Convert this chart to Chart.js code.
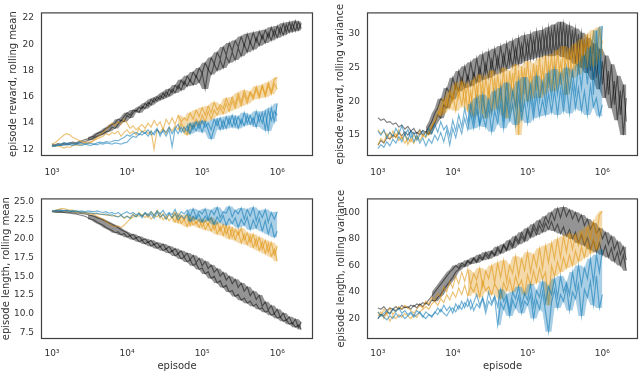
<!DOCTYPE html>
<html>
<head>
<meta charset="utf-8">
<script src="https://cdn.jsdelivr.net/npm/chart.js@4/dist/chart.umd.min.js"></script>
<style>
  html, body { margin: 0; padding: 0; background: #fff; }
  #wrap { position: relative; width: 640px; height: 372px; overflow: hidden; }
  canvas { position: absolute; }
</style>
</head>
<body>
<div id="wrap">
  <canvas id="rewMean" width="320" height="186" style="left:0;top:0"></canvas>
  <canvas id="rewVar" width="320" height="186" style="left:320px;top:0"></canvas>
  <canvas id="lenMean" width="320" height="186" style="left:0;top:186px"></canvas>
  <canvas id="lenVar" width="320" height="186" style="left:320px;top:186px"></canvas>
</div>
<script>
// episode counts (log spaced, 0.04 decades apart)
const episodes = [
  1000, 1096, 1202, 1318, 1445, 1585, 1738, 1905, 2089, 2291,
  2512, 2754, 3020, 3311, 3631, 3981, 4365, 4786, 5248, 5754,
  6310, 6918, 7586, 8318, 9120, 10000, 10965, 12023, 13183, 14454,
  15849, 17378, 19055, 20893, 22909, 25119, 27542, 30200, 33113, 36308,
  39811, 43652, 47863, 52481, 57544, 63096, 69183, 75858, 83176, 91201,
  100000, 109648, 120226, 131826, 144544, 158489, 173780, 190546, 208930, 229087,
  251189, 275423, 301995, 331131, 363078, 398107, 436516, 478630, 524807, 575440,
  630957, 691831, 758578, 831764, 912011, 1000000, 1096478, 1202264, 1318257, 1445440,
  1584893, 1737801, 1905461, 2089296
];

const xTicks = [1e3, 1e4, 1e5, 1e6];
const xTickLabels = ['10\u00B3', '10\u2074', '10\u2075', '10\u2076'];

// ---- episode reward, rolling mean ----
const rewMeanTicks = [12, 14, 16, 18, 20, 22];
const rewMeanBlackA = [
  12.3, 12.25, 12.35, 12.3, 12.4, 12.35, 12.4, 12.45, 12.4, 12.5,
  12.55, 12.6, 12.7, 12.75, 12.9, 13.0, 13.1, 13.2, 13.35, 13.4,
  13.7, 13.6, 13.9, 14.2, 14.1, 14.6, 14.4, 14.8, 15.0, 14.8,
  15.3, 15.1, 15.6, 15.4, 15.9, 15.7, 16.1, 15.9, 16.4, 16.1,
  16.6, 16.3, 16.9, 16.5, 17.2, 16.8, 17.3, 16.9, 17.6, 17.1,
  17.8, 16.6, 18.1, 17.7, 18.5, 18.0, 18.8, 18.2, 19.1, 18.6,
  19.4, 18.8, 19.7, 19.1, 20.0, 19.4, 20.2, 19.6, 20.5, 19.9,
  20.7, 20.1, 20.9, 20.3, 21.1, 20.5, 21.3, 20.7, 21.5, 20.9,
  21.6, 21.0, 21.7, 21.2
];
const rewMeanBlackB = [
  12.4, 12.35, 12.45, 12.4, 12.5, 12.45, 12.5, 12.55, 12.5, 12.6,
  12.65, 12.75, 12.8, 12.95, 13.0, 13.2, 13.3, 13.4, 13.6, 13.7,
  13.9, 14.0, 14.3, 14.2, 14.5, 14.8, 14.6, 15.0, 14.9, 15.2,
  15.1, 15.5, 15.3, 15.8, 15.6, 16.0, 15.8, 16.3, 16.0, 16.6,
  16.3, 16.9, 16.6, 17.3, 16.9, 17.6, 17.2, 17.9, 17.5, 18.2,
  17.8, 18.6, 18.1, 19.0, 18.5, 19.4, 18.9, 19.8, 19.2, 20.1,
  19.5, 20.3, 19.8, 20.6, 19.9, 20.8, 20.1, 20.9, 20.2, 21.0,
  20.4, 21.1, 20.5, 21.3, 20.6, 21.4, 20.8, 21.6, 20.9, 21.7,
  21.0, 21.8, 21.1, 21.6
];
const rewMeanOrangeA = [
  12.4, 12.5, 12.7, 12.9, 13.1, 13.2, 13.1, 12.9, 12.8, 12.7,
  12.6, 12.5, 12.6, 12.5, 12.7, 12.9, 13.1, 13.3, 13.5, 13.8,
  14.0, 13.8, 14.1, 13.9, 14.3, 14.0, 13.6, 13.8, 13.5, 13.7,
  13.9, 13.6, 14.0, 13.7, 14.2, 13.8, 14.1, 13.5, 14.3, 13.9,
  14.4, 13.9, 14.6, 14.1, 14.4, 14.2, 14.8, 14.3, 15.0, 14.5,
  15.2, 14.6, 15.3, 14.8, 15.6, 15.0, 15.4, 15.1, 15.9, 15.3,
  16.0, 15.4, 16.3, 15.6, 16.5, 15.8, 16.4, 16.0, 16.8, 16.1,
  16.9, 16.2, 17.1, 16.4, 17.3, 17.5
];
const rewMeanOrangeB = [
  12.2, 12.3, 12.25, 12.2, 12.1, 12.2, 12.15, 12.3, 12.35, 12.3,
  12.4, 12.5, 12.45, 12.6, 12.7, 12.8, 12.9, 13.0, 13.2, 13.1,
  13.3, 13.2, 13.4, 13.0, 13.3, 13.5, 13.2, 13.4, 13.1, 13.6,
  13.3, 13.5, 13.2, 13.4, 12.0, 13.5, 13.3, 13.6, 13.2, 13.7,
  13.4, 13.8, 13.5, 14.0, 13.6, 13.1, 13.9, 13.7, 14.3, 13.9,
  14.6, 14.1, 14.9, 14.3, 15.0, 14.6, 15.2, 14.7, 15.5, 14.9,
  15.7, 15.1, 16.0, 15.3, 16.2, 15.5, 16.3, 15.8, 16.6, 15.9,
  16.8, 16.0, 16.9, 16.2, 17.0, 16.6
];
const rewMeanBlueA = [
  12.3, 12.25, 12.3, 12.35, 12.3, 12.4, 12.35, 12.3, 12.4, 12.35,
  12.3, 12.4, 12.35, 12.3, 12.4, 12.35, 12.45, 12.4, 12.5, 12.45,
  12.4, 12.5, 12.45, 12.4, 12.5, 12.55, 12.8, 13.0, 12.9, 13.2,
  13.1, 13.3, 13.0, 13.4, 13.1, 13.5, 13.2, 13.4, 13.0, 13.5,
  12.2, 13.6, 13.2, 13.7, 13.3, 13.8, 13.2, 13.9, 13.4, 14.0,
  13.3, 14.1, 13.5, 12.8, 13.6, 14.3, 13.5, 14.2, 13.6, 14.4,
  13.7, 14.5, 13.6, 14.3, 13.8, 14.6, 13.9, 14.4, 13.7, 14.7,
  14.0, 14.9, 13.4, 15.2, 14.1, 15.5
];
const rewMeanBlueB = [
  12.2, 12.3, 12.35, 12.4, 12.5, 12.45, 12.5, 12.4, 12.45, 12.5,
  12.45, 12.4, 12.5, 12.45, 12.4, 12.5, 12.55, 12.5, 12.6, 12.55,
  12.6, 12.7, 12.65, 12.8, 12.9, 13.1, 13.0, 13.2, 13.3, 13.1,
  13.4, 13.2, 13.5, 13.1, 13.3, 13.6, 13.0, 13.5, 13.3, 13.7,
  13.2, 13.6, 13.9, 13.3, 13.7, 13.4, 14.0, 13.5, 14.1, 13.6,
  14.2, 13.7, 14.0, 13.5, 14.3, 13.8, 14.4, 13.6, 14.5, 13.9,
  14.6, 13.8, 14.5, 13.9, 14.8, 14.0, 14.6, 13.9, 14.9, 14.1,
  14.8, 13.5, 15.0, 14.2, 14.9, 14.6
];

// ---- episode reward, rolling variance ----
const rewVarTicks = [15, 20, 25, 30];
const rewVarBlackA = [
  17.6, 17.2, 17.4, 16.9, 17.0, 16.6, 16.8, 16.2, 16.5, 15.9,
  16.3, 15.6, 16.0, 15.2, 15.8, 15.0, 15.5, 15.1, 16.0, 16.8,
  18.0, 17.5, 19.5, 19.0, 21.0, 20.3, 22.5, 21.5, 23.5, 22.0,
  23.8, 22.3, 24.2, 22.8, 25.0, 23.2, 25.6, 23.5, 26.2, 24.0,
  26.6, 24.3, 27.0, 24.8, 27.5, 25.2, 28.0, 25.5, 28.5, 26.0,
  29.0, 26.2, 29.4, 26.5, 29.8, 26.8, 30.2, 27.0, 30.6, 27.2,
  31.0, 27.3, 31.5, 27.0, 31.2, 26.8, 30.8, 26.2, 30.2, 25.5,
  29.4, 24.5, 28.6, 23.5, 27.8, 22.5, 26.8, 21.0, 25.5, 19.5,
  23.8, 18.0, 22.5, 17.0
];
const rewVarBlackB = [
  13.5, 14.2, 13.8, 14.6, 14.4, 15.0, 14.7, 15.3, 14.9, 15.5,
  15.0, 15.6, 15.2, 15.4, 15.1, 15.7, 15.4, 16.2, 17.0, 18.2,
  19.0, 20.4, 20.0, 22.0, 21.2, 23.5, 22.0, 24.5, 22.6, 25.2,
  23.0, 25.8, 23.4, 26.4, 23.8, 27.0, 24.2, 27.4, 24.6, 27.8,
  25.0, 28.2, 25.3, 28.6, 25.6, 29.0, 25.8, 29.4, 26.1, 29.8,
  26.3, 30.0, 26.5, 30.4, 26.6, 30.6, 26.8, 31.0, 26.7, 31.4,
  26.9, 31.8, 26.6, 31.3, 26.2, 30.6, 25.6, 30.0, 25.0, 29.2,
  24.2, 28.2, 23.2, 27.2, 21.8, 26.0, 20.5, 24.5, 19.0, 23.0,
  17.2, 21.6, 15.0, 20.5
];
const rewVarOrangeA = [
  15.8, 15.2, 15.6, 14.8, 15.4, 14.6, 15.2, 14.2, 14.8, 13.8,
  14.6, 14.0, 15.0, 14.4, 15.6, 14.8, 15.4, 15.0, 16.2, 17.4,
  18.6, 18.0, 20.2, 19.2, 21.5, 20.0, 22.6, 20.5, 23.0, 19.5,
  22.5, 18.5, 23.2, 19.8, 24.0, 18.2, 23.5, 20.5, 24.6, 19.0,
  24.0, 20.0, 25.0, 17.5, 24.5, 20.8, 25.5, 15.0, 25.2, 21.0,
  26.0, 20.5, 25.6, 21.5, 26.4, 21.0, 26.8, 22.0, 27.0, 21.5,
  27.6, 22.5, 28.2, 21.0, 27.8, 23.5, 28.6, 24.0, 29.2, 25.0,
  30.0, 25.5, 30.6, 26.0, 31.0, 27.0
];
const rewVarOrangeB = [
  13.5, 14.5, 14.0, 15.2, 14.4, 15.6, 14.6, 15.8, 14.4, 15.2,
  13.6, 14.5, 13.8, 14.8, 14.2, 15.0, 14.6, 15.6, 16.4, 17.0,
  17.8, 19.0, 18.4, 20.5, 19.0, 21.2, 18.6, 21.8, 19.4, 22.2,
  18.8, 21.5, 17.8, 22.4, 19.2, 23.0, 17.5, 22.2, 18.6, 23.5,
  19.4, 22.8, 18.0, 23.6, 20.2, 24.2, 19.0, 24.6, 20.5, 25.0,
  20.0, 24.2, 21.0, 25.4, 20.5, 25.0, 21.5, 25.8, 22.0, 26.4,
  22.5, 25.8, 23.2, 27.0, 24.0, 27.6, 24.8, 28.2, 25.5, 28.8,
  26.0, 29.5, 25.2, 28.6, 26.5, 29.0
];
const rewVarBlueA = [
  15.6, 15.0, 15.8, 14.6, 15.4, 14.8, 16.0, 15.2, 16.4, 15.0,
  15.8, 14.6, 15.4, 14.2, 15.0, 15.6, 14.8, 16.0, 15.2, 16.6,
  15.4, 17.0, 15.8, 16.4, 14.8, 17.2, 15.6, 18.0, 16.2, 19.0,
  16.8, 19.6, 17.0, 20.5, 16.4, 21.0, 17.8, 20.2, 18.0, 21.5,
  18.2, 22.0, 17.0, 22.8, 18.5, 21.5, 19.0, 23.0, 18.4, 23.6,
  19.5, 22.5, 18.8, 23.8, 20.0, 22.8, 19.6, 24.2, 20.5, 24.8,
  21.0, 24.0, 20.2, 25.0, 21.5, 24.5, 21.0, 25.5, 22.0, 26.8,
  22.5, 28.0, 21.0, 30.5, 24.0, 31.2
];
const rewVarBlueB = [
  13.0, 13.6, 13.2, 14.0, 13.4, 14.4, 13.8, 14.8, 14.0, 15.2,
  14.2, 15.6, 14.0, 15.0, 13.8, 14.6, 13.4, 14.4, 13.8, 15.0,
  14.2, 15.4, 14.0, 15.8, 13.5, 16.0, 14.6, 16.6, 15.2, 17.5,
  15.8, 18.2, 16.0, 18.8, 16.6, 18.0, 16.2, 19.2, 15.5, 18.6,
  16.8, 19.8, 16.0, 20.4, 17.2, 19.6, 16.5, 20.8, 17.4, 20.0,
  16.8, 20.6, 17.5, 21.0, 17.8, 20.2, 18.0, 21.2, 18.4, 21.6,
  18.0, 21.8, 18.6, 22.2, 18.2, 22.6, 19.0, 22.0, 18.6, 21.5,
  18.0, 22.4, 19.2, 20.5, 17.8, 19.5
];

// ---- episode length, rolling mean ----
const lenMeanTicks = [7.5, 10, 12.5, 15, 17.5, 20, 22.5, 25];
const lenMeanBlackA = [
  23.7, 23.6, 23.65, 23.6, 23.55, 23.6, 23.5, 23.55, 23.45, 23.4,
  23.35, 23.3, 23.2, 23.1, 23.0, 22.8, 22.7, 22.5, 22.3, 22.1,
  21.9, 21.7, 21.5, 21.2, 21.0, 20.8, 20.4, 20.6, 20.1, 20.3,
  19.8, 20.0, 19.5, 19.8, 19.2, 19.5, 18.9, 19.3, 18.6, 19.0,
  18.3, 18.7, 18.0, 18.4, 17.6, 18.1, 17.2, 17.8, 16.8, 17.4,
  16.4, 17.0, 16.0, 16.5, 15.5, 16.0, 15.0, 15.5, 14.5, 15.0,
  14.0, 14.6, 13.5, 14.1, 13.0, 13.6, 12.4, 13.0, 11.9, 12.5,
  11.0, 11.6, 10.5, 11.1, 10.0, 10.6, 9.5, 10.1, 9.1, 9.6,
  8.6, 9.3, 8.2, 8.9
];
const lenMeanBlackB = [
  23.6, 23.55, 23.5, 23.55, 23.5, 23.45, 23.4, 23.35, 23.3, 23.2,
  23.1, 23.0, 22.8, 22.6, 22.5, 22.2, 22.0, 21.8, 21.5, 21.3,
  21.1, 20.8, 20.9, 20.5, 20.7, 20.2, 20.4, 19.9, 20.1, 19.6,
  19.8, 19.3, 19.6, 19.0, 19.3, 18.7, 19.0, 18.4, 18.7, 18.1,
  18.4, 17.7, 18.0, 17.3, 17.6, 16.9, 17.2, 16.4, 16.7, 15.9,
  16.1, 15.3, 15.6, 14.7, 15.0, 14.1, 14.4, 13.5, 13.8, 12.9,
  13.1, 12.3, 12.6, 11.8, 12.1, 11.4, 11.7, 11.0, 11.3, 10.6,
  10.8, 10.2, 10.4, 9.8, 10.0, 9.4, 9.6, 9.0, 9.2, 8.6,
  8.8, 8.2, 8.5, 7.9
];
const lenMeanOrangeA = [
  23.7, 23.8, 23.9, 24.0, 24.0, 23.9, 23.8, 23.8, 23.7, 23.6,
  23.5, 23.5, 23.4, 23.3, 23.2, 23.0, 22.8, 22.6, 22.3, 22.0,
  21.8, 21.6, 21.7, 21.5, 21.8, 22.2, 22.6, 22.9, 23.1, 23.0,
  23.2, 22.8, 23.3, 22.6, 23.1, 22.9, 23.4, 22.5, 23.0, 22.4,
  22.9, 22.2, 23.2, 22.0, 22.6, 21.6, 22.8, 21.8, 22.3, 21.5,
  22.6, 21.2, 22.0, 21.0, 22.2, 20.6, 21.6, 20.4, 21.8, 20.0,
  21.4, 19.8, 21.0, 19.4, 20.6, 19.2, 20.4, 18.8, 20.0, 18.4,
  19.6, 18.0, 19.4, 17.6, 18.6, 17.0
];
const lenMeanOrangeB = [
  23.6, 23.7, 23.8, 23.8, 23.7, 23.7, 23.6, 23.6, 23.5, 23.5,
  23.5, 23.4, 23.4, 23.3, 23.4, 23.3, 23.2, 23.3, 23.1, 23.2,
  23.0, 23.1, 22.9, 23.2, 22.7, 23.0, 22.8, 23.3, 22.9, 23.5,
  23.0, 23.4, 22.8, 23.6, 23.1, 23.8, 22.7, 23.4, 22.6, 23.2,
  22.8, 23.5, 22.2, 23.0, 22.5, 23.2, 21.8, 22.9, 22.0, 22.6,
  21.6, 22.4, 21.8, 22.8, 21.2, 22.2, 21.0, 21.9, 20.6, 21.6,
  20.2, 21.2, 20.5, 21.4, 19.8, 20.8, 19.5, 20.6, 19.0, 20.2,
  18.6, 19.8, 18.2, 19.5, 17.8, 19.0
];
const lenMeanBlueA = [
  23.7, 23.75, 23.8, 23.8, 23.75, 23.8, 23.7, 23.75, 23.7, 23.65,
  23.7, 23.6, 23.7, 23.65, 23.6, 23.7, 23.6, 23.5, 23.6, 23.4,
  23.5, 23.3, 23.5, 23.2, 23.4, 23.6, 23.3, 23.5, 23.2, 23.4,
  23.0, 23.5, 23.2, 23.6, 23.1, 23.7, 23.3, 23.8, 23.1, 23.5,
  23.2, 23.9, 22.9, 23.6, 23.3, 23.8, 23.0, 24.0, 22.8, 23.7,
  23.3, 24.0, 22.6, 23.8, 23.2, 24.2, 22.8, 23.6, 23.4, 24.3,
  22.9, 23.8, 23.3, 24.1, 22.6, 23.9, 23.0, 24.2, 22.4, 23.7,
  22.8, 23.9, 22.2, 23.5, 22.6, 23.6
];
const lenMeanBlueB = [
  23.6, 23.7, 23.7, 23.75, 23.7, 23.7, 23.65, 23.6, 23.6, 23.55,
  23.5, 23.5, 23.4, 23.45, 23.3, 23.4, 23.3, 23.2, 23.3, 23.1,
  23.2, 23.0, 22.9, 23.1, 22.8, 23.0, 22.7, 23.2, 22.9, 23.3,
  22.8, 23.4, 23.0, 23.3, 22.7, 23.5, 22.9, 23.2, 22.6, 23.4,
  22.8, 23.3, 22.5, 23.1, 22.7, 23.4, 22.3, 23.0, 22.6, 23.2,
  22.2, 23.0, 22.4, 22.8, 21.9, 22.9, 22.2, 23.1, 21.8, 22.7,
  22.0, 22.8, 21.5, 22.6, 21.8, 22.9, 21.2, 22.5, 21.4, 22.7,
  21.0, 22.4, 20.6, 22.0, 20.2, 21.0
];

// ---- episode length, rolling variance ----
const lenVarTicks = [20, 40, 60, 80, 100];
const lenVarBlackA = [
  28, 27, 29, 26, 28, 27, 29, 27, 30, 28,
  29, 27, 30, 28, 31, 29, 32, 30, 34, 33,
  36, 38, 42, 45, 48, 51, 55, 57, 60, 59,
  63, 61, 65, 62, 66, 64, 68, 65, 70, 67,
  72, 69, 75, 71, 77, 73, 80, 76, 82, 78,
  86, 81, 88, 83, 90, 85, 92, 87, 93, 86,
  91, 84, 89, 82, 87, 80, 85, 77, 83, 75,
  81, 72, 79, 70, 77, 68, 75, 66, 73, 63,
  70, 60, 68, 56
];
const lenVarBlackB = [
  20, 23, 22, 25, 24, 27, 26, 28, 27, 29,
  28, 30, 29, 31, 30, 32, 31, 34, 37, 40,
  43, 46, 49, 52, 55, 57, 60, 58, 62, 60,
  64, 62, 66, 63, 68, 65, 70, 67, 71, 68,
  74, 70, 76, 72, 79, 75, 82, 78, 85, 80,
  88, 83, 91, 86, 94, 89, 97, 92, 100, 94,
  103, 96, 104, 97, 102, 95, 100, 93, 98, 90,
  95, 87, 92, 84, 88, 80, 85, 76, 82, 72,
  78, 68, 74, 64
];
const lenVarOrangeA = [
  25, 22, 27, 24, 28, 23, 26, 29, 27, 30,
  28, 26, 24, 27, 30, 28, 33, 31, 36, 34,
  39, 36, 44, 40, 48, 43, 52, 46, 55, 48,
  57, 45, 54, 49, 58, 44, 56, 50, 60, 47,
  62, 51, 64, 48, 60, 54, 67, 52, 65, 56,
  70, 55, 68, 59, 73, 58, 75, 62, 77, 65,
  80, 66, 82, 70, 84, 72, 83, 75, 86, 78,
  89, 80, 93, 82, 98, 101
];
const lenVarOrangeB = [
  22, 25, 20, 24, 18, 22, 20, 23, 21, 24,
  22, 20, 23, 21, 25, 27, 29, 27, 31, 33,
  30, 35, 32, 38, 34, 40, 36, 43, 38, 45,
  37, 44, 40, 47, 36, 48, 41, 44, 38, 46,
  42, 35, 47, 41, 50, 40, 52, 44, 49, 38,
  53, 45, 56, 47, 58, 50, 55, 30, 60, 52,
  63, 55, 66, 58, 68, 60, 71, 63, 74, 66,
  77, 69, 80, 72, 84, 88
];
const lenVarBlueA = [
  25, 22, 24, 26, 23, 27, 25, 28, 24, 26,
  23, 25, 22, 26, 24, 21, 25, 23, 22, 24,
  28, 25, 30, 26, 29, 24, 31, 27, 33, 28,
  35, 27, 32, 38, 30, 36, 28, 40, 32, 37,
  29, 42, 33, 38, 26, 40, 35, 44, 30, 39,
  34, 46, 29, 41, 36, 48, 32, 44, 38, 50,
  36, 52, 40, 47, 38, 55, 42, 60, 45, 58,
  50, 65, 47, 68, 55, 72
];
const lenVarBlueB = [
  20, 23, 21, 19, 22, 20, 24, 21, 23, 20,
  22, 24, 21, 23, 25, 22, 20, 23, 21, 25,
  23, 27, 24, 22, 26, 28, 25, 30, 27, 32,
  29, 34, 26, 31, 28, 35, 24, 33, 30, 36,
  15, 32, 27, 35, 22, 34, 28, 37, 24, 33,
  30, 38, 20, 34, 27, 40, 25, 10, 32, 42,
  28, 38, 33, 44, 26, 40, 35, 46, 22, 42,
  36, 48, 30, 52, 28, 38
];

const COLORS = {
  black: { line: 'rgba(0, 0, 0, 0.5)', fill: 'rgba(0, 0, 0, 0.42)' },
  orange: { line: 'rgba(222, 143, 5, 0.55)', fill: 'rgba(222, 143, 5, 0.34)' },
  blue: { line: 'rgba(1, 115, 178, 0.55)', fill: 'rgba(1, 115, 178, 0.34)' }
};
const TEXT = '#333333';
const FONT = 'DejaVu Sans';

function points(vals) {
  return vals.map((v, i) => ({ x: episodes[i], y: v }));
}

// spread of both runs over neighbouring samples, from index `from` onward
function spread(a, b, from, pick) {
  const out = [];
  for (let i = from; i < Math.min(a.length, b.length); i++) {
    const near = [];
    for (let j = i - 1; j <= i + 1; j++) {
      if (j >= from && j < a.length && j < b.length) near.push(a[j], b[j]);
    }
    out.push({ x: episodes[i], y: pick(...near) });
  }
  return out;
}

// matplotlib-style box around each axes
const framePlugin = {
  id: 'frame',
  afterDatasetsDraw(chart) {
    const a = chart.chartArea;
    const ctx = chart.ctx;
    ctx.save();
    ctx.strokeStyle = '#404040';
    ctx.lineWidth = 1.2;
    ctx.strokeRect(a.left + 0.5, a.top + 0.5, a.right - a.left - 1, a.bottom - a.top - 1);
    ctx.restore();
  }
};

function drawPanel(id, p) {
  const datasets = [];
  // draw order: black at the bottom, blue on top (first dataset is drawn last)
  ['blue', 'orange', 'black'].forEach(name => {
    const runs = p[name];
    const c = COLORS[name];
    runs.forEach(vals => {
      datasets.push({
        data: points(vals), borderColor: c.line, borderWidth: 1.15,
        pointRadius: 0, tension: 0, fill: false
      });
    });
    // noisy part: shade between the upper and lower edge of the runs
    const from = p.bandFrom[name];
    datasets.push({
      data: spread(runs[0], runs[1], from, Math.max), borderWidth: 0,
      borderColor: 'rgba(0,0,0,0)', pointRadius: 0, tension: 0,
      fill: '+1', backgroundColor: c.fill
    });
    datasets.push({
      data: spread(runs[0], runs[1], from, Math.min), borderWidth: 0,
      borderColor: 'rgba(0,0,0,0)', pointRadius: 0, tension: 0, fill: false
    });
  });

  new Chart(document.getElementById(id), {
    type: 'line',
    data: { datasets: datasets },
    options: {
      responsive: false,
      animation: false,
      events: [],
      layout: { padding: { left: 0, top: p.padTop, right: p.padRight, bottom: 0 } },
      plugins: { legend: { display: false }, tooltip: { enabled: false } },
      scales: {
        x: {
          type: 'logarithmic',
          min: 715,
          max: 2990000,
          grid: { display: false, drawTicks: false },
          border: { display: false },
          afterBuildTicks: s => { s.ticks = xTicks.map(v => ({ value: v })); },
          afterFit: s => { s.height = p.xHeight; },
          ticks: {
            autoSkip: false,
            maxRotation: 0,
            padding: p.xPad,
            color: TEXT,
            font: { family: FONT, size: 9 },
            callback: (v, i) => xTickLabels[i]
          },
          title: {
            display: p.showX,
            text: 'episode',
            color: TEXT,
            font: { family: FONT, size: 10 },
            padding: { top: 0, bottom: 0 }
          }
        },
        y: {
          type: 'linear',
          min: p.yMin,
          max: p.yMax,
          grid: { display: false, drawTicks: false },
          border: { display: false },
          afterBuildTicks: s => { s.ticks = p.ticks.map(v => ({ value: v })); },
          afterFit: s => { s.width = p.yWidth; },
          ticks: {
            padding: 7,
            color: TEXT,
            font: { family: FONT, size: 9 },
            callback: (v, i) => p.fmt(p.ticks[i])
          },
          title: {
            display: true,
            text: p.yTitle,
            color: TEXT,
            font: { family: FONT, size: 10 },
            padding: { top: p.titlePad, bottom: 0 }
          }
        }
      }
    },
    plugins: [framePlugin]
  });
}

drawPanel('rewMean', {
  black: [rewMeanBlackA, rewMeanBlackB],
  orange: [rewMeanOrangeA, rewMeanOrangeB],
  blue: [rewMeanBlueA, rewMeanBlueB],
  bandFrom: { black: 12, orange: 42, blue: 45 },
  ticks: rewMeanTicks, fmt: v => String(v),
  yMin: 11.5, yMax: 22.43, yTitle: 'episode reward, rolling mean',
  padTop: 5, padRight: 7, yWidth: 41, xHeight: 30, xPad: 11, titlePad: 7, showX: false
});
drawPanel('rewVar', {
  black: [rewVarBlackA, rewVarBlackB],
  orange: [rewVarOrangeA, rewVarOrangeB],
  blue: [rewVarBlueA, rewVarBlueB],
  bandFrom: { black: 16, orange: 20, blue: 30 },
  ticks: rewVarTicks, fmt: v => String(v),
  yMin: 11.9, yMax: 33.2, yTitle: 'episode reward, rolling variance',
  padTop: 5, padRight: 2, yWidth: 47, xHeight: 30, xPad: 11, titlePad: 14, showX: false
});
drawPanel('lenMean', {
  black: [lenMeanBlackA, lenMeanBlackB],
  orange: [lenMeanOrangeA, lenMeanOrangeB],
  blue: [lenMeanBlueA, lenMeanBlueB],
  bandFrom: { black: 12, orange: 40, blue: 45 },
  ticks: lenMeanTicks, fmt: v => v.toFixed(1),
  yMin: 6.64, yMax: 25.37, yTitle: 'episode length, rolling mean',
  padTop: 1, padRight: 7, yWidth: 41, xHeight: 33, xPad: 9, titlePad: 0, showX: true
});
drawPanel('lenVar', {
  black: [lenVarBlackA, lenVarBlackB],
  orange: [lenVarOrangeA, lenVarOrangeB],
  blue: [lenVarBlueA, lenVarBlueB],
  bandFrom: { black: 18, orange: 30, blue: 40 },
  ticks: lenVarTicks, fmt: v => String(v),
  yMin: 4.6, yMax: 110.5, yTitle: 'episode length, rolling variance',
  padTop: 2, padRight: 2, yWidth: 47, xHeight: 33, xPad: 9, titlePad: 15, showX: true
});
</script>
</body>
</html>
